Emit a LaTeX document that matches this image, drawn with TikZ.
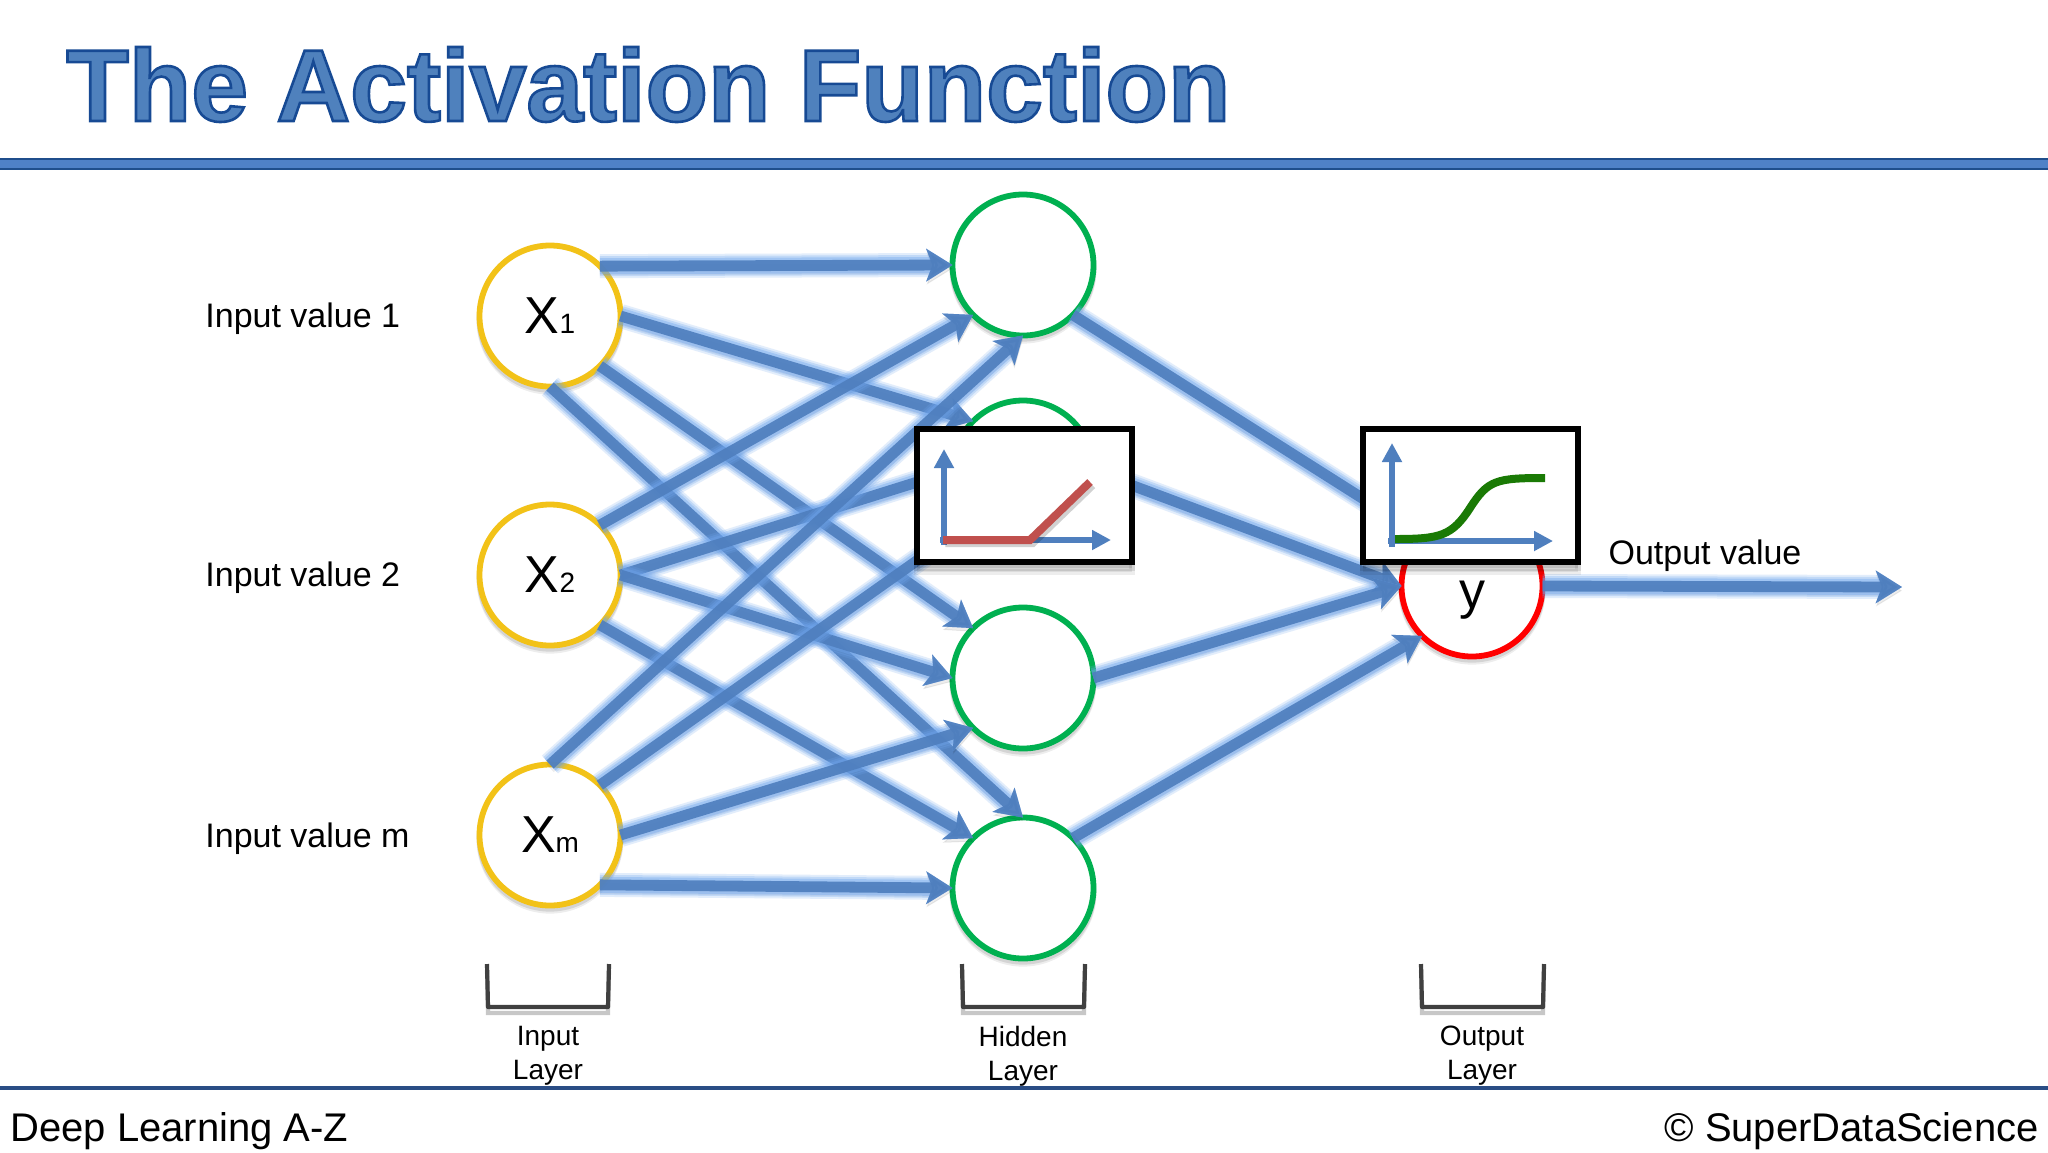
\documentclass[tikz,border=0pt]{standalone}
\usepackage{fontspec}
\setmainfont{Liberation Sans}
\usetikzlibrary{arrows.meta,calc}
\definecolor{wireblue}{HTML}{4F7FBE}
\definecolor{wireglow}{HTML}{6FA6EE}
\definecolor{ruleblue}{HTML}{4F81C7}
\definecolor{ruleedge}{HTML}{1F4E8C}
\definecolor{footrule}{HTML}{2A4D85}
\definecolor{titlefill}{HTML}{4F81BD}
\definecolor{ringyellow}{HTML}{F2C218}
\definecolor{ringgreen}{HTML}{00B050}
\definecolor{ringred}{HTML}{FF0000}
\definecolor{relured}{HTML}{C0504D}
\definecolor{sigmoid}{HTML}{1A7A05}
\definecolor{bracketgrey}{HTML}{404040}
\tikzset{
  x=0.5pt,y=-0.5pt,
  gtip/.style={-{Stealth[length=13pt,width=16pt,inset=3pt,line width=#1]}},
  ring/.style={circle,minimum size=70.5pt,inner sep=0pt,outer sep=0pt,line width=2.9pt,draw=#1,fill=white,
    font=\fontsize{26}{26}\selectfont,
    preaction={draw=black,fill=none,opacity=.10,transform canvas={yshift=-1.6pt}},
    preaction={draw=black,fill=none,opacity=.07,transform canvas={yshift=-2.6pt}}},
  wire/.style={draw=wireblue,line width=5.4pt,opacity=.92,-{Stealth[length=13pt,width=16pt,inset=3pt]},
    preaction={draw=black,opacity=.07,line width=5.4pt,transform canvas={yshift=-1.8pt},gtip=0.5pt},
    preaction={draw=wireglow,opacity=.20,line width=12pt,gtip=4.6pt},
    preaction={draw=wireglow,opacity=.28,line width=10pt,gtip=3.4pt},
    preaction={draw=wireglow,opacity=.38,line width=8pt,gtip=2pt}},
  plotbox/.style={draw=black,fill=white,line width=2.6pt,minimum width=107.5pt,minimum height=66.5pt,inner sep=0pt,outer sep=0pt,
    preaction={draw=black,fill=black,opacity=.10,transform canvas={yshift=-3pt}},
    preaction={draw=black,fill=black,opacity=.07,transform canvas={yshift=-5pt}}},
  axis/.style={draw=wireblue,line width=2.9pt,-{Triangle[length=9.5pt,width=9.5pt]}},
  curveshadow/.style={draw=black,opacity=.18,line width=4pt,transform canvas={xshift=1.2pt,yshift=-1.6pt}},
  bracket/.style={draw=bracketgrey,line width=2.1pt,line join=round,
    preaction={draw=black,opacity=.22,line width=2.1pt,transform canvas={yshift=-3pt}}},
  lab/.style={anchor=west,inner sep=0pt,font=\fontsize{17}{17}\selectfont},
  laylab/.style={align=center,inner sep=0pt,font=\fontsize{14}{17}\selectfont},
  foot/.style={inner sep=0pt,font=\fontsize{20}{20}\selectfont},
}
\begin{document}
\begin{tikzpicture}
\useasboundingbox (0,0) rectangle (2048,1152);
\fill[white] (0,0) rectangle (2048,1152);
% title and rules
\node[anchor=base west,inner sep=0pt,text=titlefill,font=\fontsize{51.1}{51.1}\selectfont\bfseries] (title) at (66,121)
  {\special{pdf:code 2 Tr 1.3 w 0.09 0.29 0.58 RG}The Activation Function\special{pdf:code 0 Tr 1 w}};
\draw[draw=ruleedge,fill=ruleblue,line width=0.9pt] (-5,159) rectangle (2053,169);
\fill[footrule] (0,1086) rectangle (2048,1090);
% input labels
\node[lab] (l1) at (205,319) {Input value 1};
\node[lab] (l2) at (205,578) {Input value 2};
\node[lab] (l3) at (205,839) {Input value m};
% neurons
\node[ring=ringyellow] (x1) at (550,316) {\raisebox{-1pt}{X{\fontsize{14}{14}\selectfont 1}}};
\node[ring=ringyellow] (x2) at (550,575) {\raisebox{-1pt}{X{\fontsize{14}{14}\selectfont 2}}};
\node[ring=ringyellow] (xm) at (550,835) {\raisebox{-1pt}{X{\fontsize{14}{14}\selectfont m}}};
\node[ring=ringgreen] (h1) at (1023,265) {};
\node[ring=ringgreen] (h2) at (1023,471) {};
\node[ring=ringgreen] (h3) at (1023,678) {};
\node[ring=ringgreen] (h4) at (1023,888) {};
\node[ring=ringred] (y) at (1472,586) {\raisebox{-11pt}[0pt][0pt]{y}};
\coordinate (out) at (1902,587);
% connectors
\draw[wire] (x1.45) -- (h1.180);
\draw[wire] (x1.0) -- (h2.135);
\draw[wire] (x1.315) -- (h3.135);
\draw[wire] (x1.270) -- (h4.90);
\draw[wire] (x2.45) -- (h1.225);
\draw[wire] (x2.0) -- (h2.180);
\draw[wire] (x2.0) -- (h3.180);
\draw[wire] (x2.315) -- (h4.135);
\draw[wire] (xm.90) -- (h1.270);
\draw[wire] (xm.45) -- (h2.225);
\draw[wire] (xm.0) -- (h3.225);
\draw[wire] (xm.315) -- (h4.180);
\draw[wire] (h1.315) -- (y.135);
\draw[wire] (h2.0) -- (y.180);
\draw[wire] (h3.0) -- (y.180);
\draw[wire] (h4.45) -- (y.225);
\draw[wire] (y.0) -- (out);
\node[lab,anchor=center] (ov) at (1705,556) {Output value};
% ReLU plot
\node[plotbox] (bx1) at (1024.5,495.5) {};
\coordinate (o1) at (944,545);
\coordinate (t1) at (944,449);
\coordinate (o1b) at (940,540);
\coordinate (r1) at (1111,540);
\coordinate (c1a) at (943,540);
\coordinate (c1b) at (1030,540);
\coordinate (c1c) at (1090,482);
\draw[axis] (o1) -- (t1);
\draw[axis] (o1b) -- (r1);
\draw[curveshadow] (c1a) -- (c1b) -- (c1c);
\draw[draw=relured,line width=4pt] (c1a) -- (c1b) -- (c1c);
% sigmoid plot
\node[plotbox] (bx2) at (1470.5,495.5) {};
\coordinate (o2) at (1392,547);
\coordinate (t2) at (1392,443);
\coordinate (o2b) at (1388,541);
\coordinate (r2) at (1553,541);
\coordinate (c2a) at (1395,539);
\coordinate (c2c) at (1545,478);
\draw[axis] (o2) -- (t2);
\draw[axis] (o2b) -- (r2);
\draw[draw=sigmoid,line width=4pt] (c2a) .. controls (1440,539) and (1452,536) .. (1470,508)
  .. controls (1488,480) and (1496,478) .. (c2c);
% layer brackets
\draw[bracket] (487,964) -- (488,1007) -- (608,1007) -- (609,964);
\draw[bracket] (962,964) -- (963,1007) -- (1084,1007) -- (1085,964);
\draw[bracket] (1421,964) -- (1422,1007) -- (1543,1007) -- (1544,964);
\node[laylab] (li) at (548,1056) {Input\\Layer};
\node[laylab] (lh) at (1023,1056) {Hidden\\Layer};
\node[laylab] (lo) at (1482,1056) {Output\\Layer};
% footer
\node[foot,anchor=west] (fl) at (10,1131) {Deep Learning A-Z};
\node[foot,anchor=east] (fr) at (2039,1131) {© SuperDataScience};
\end{tikzpicture}
\end{document}
